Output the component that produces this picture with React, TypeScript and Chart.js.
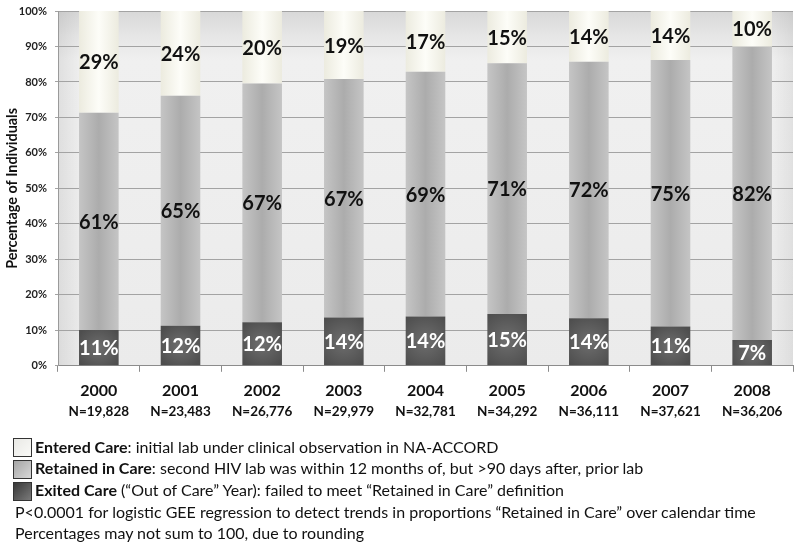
import React, { useEffect, useRef } from 'react';
import { Chart, registerables } from 'chart.js';

Chart.register(...registerables);

const years = ['2000', '2001', '2002', '2003', '2004', '2005', '2006', '2007', '2008'];
const sampleSizes = ['N=19,828', 'N=23,483', 'N=26,776', 'N=29,979', 'N=32,781', 'N=34,292', 'N=36,111', 'N=37,621', 'N=36,206'];

// bar heights (percent of individuals)
const exitedCare = [10.1, 11.3, 12.3, 13.6, 13.9, 14.6, 13.4, 11.1, 7.3];
const retainedCare = [61.2, 64.8, 67.3, 67.2, 69.0, 70.7, 72.3, 75.1, 82.6];
const enteredCare = [28.7, 23.9, 20.4, 19.2, 17.1, 14.7, 14.3, 13.8, 10.1];

// printed labels on the bars
const exitedLabels = ['11%', '12%', '12%', '14%', '14%', '15%', '14%', '11%', '7%'];
const retainedLabels = ['61%', '65%', '67%', '67%', '69%', '71%', '72%', '75%', '82%'];
const enteredLabels = ['29%', '24%', '20%', '19%', '17%', '15%', '14%', '14%', '10%'];

const FONT = 'Lato, "Open Sans", sans-serif';
const BAR_PCT = 0.485;

export default function App() {
  const ref = useRef<HTMLCanvasElement>(null);

  useEffect(() => {
    const canvas = ref.current!;

    const bounds = (chart: any, index: number, dsIndex: number) => {
      const xs = chart.scales.x;
      const ys = chart.scales.y;
      const cx = xs.getPixelForValue(index);
      const half = ((xs.width / years.length) * BAR_PCT) / 2;
      let base = 0;
      for (let d = 0; d < dsIndex; d++) base += chart.data.datasets[d].data[index];
      const top = base + chart.data.datasets[dsIndex].data[index];
      return { x0: cx - half, x1: cx + half, cx, yTop: ys.getPixelForValue(top), yBase: ys.getPixelForValue(base) };
    };

    const linearShade = (edge: string, center: string) => (c: any) => {
      const chart = c.chart;
      if (!chart.chartArea || c.type !== 'data' || !chart.scales.x) return center;
      const b = bounds(chart, c.dataIndex, c.datasetIndex);
      const g = chart.ctx.createLinearGradient(b.x0, 0, b.x1, 0);
      g.addColorStop(0, edge);
      g.addColorStop(0.5, center);
      g.addColorStop(1, edge);
      return g;
    };

    const radialShade = (edge: string, center: string) => (c: any) => {
      const chart = c.chart;
      if (!chart.chartArea || c.type !== 'data' || !chart.scales.x) return center;
      const b = bounds(chart, c.dataIndex, c.datasetIndex);
      const cy = (b.yTop + b.yBase) / 2;
      const r = Math.max(b.x1 - b.x0, b.yBase - b.yTop) * 0.6;
      const g = chart.ctx.createRadialGradient(b.cx, cy, 0, b.cx, cy, r);
      g.addColorStop(0, center);
      g.addColorStop(1, edge);
      return g;
    };

    const bgPlugin = {
      id: 'plotBg',
      beforeDraw(chart: any) {
        const { ctx, chartArea: a } = chart;
        if (!a) return;
        ctx.save();
        const g = ctx.createLinearGradient(0, a.top, 0, a.bottom);
        g.addColorStop(0, '#d8d8d8');
        g.addColorStop(0.07, '#e6e6e6');
        g.addColorStop(0.14, '#f0f0f0');
        g.addColorStop(1, '#ebebeb');
        ctx.fillStyle = g;
        ctx.fillRect(a.left, a.top, a.right - a.left, a.bottom - a.top);
        const gl = ctx.createLinearGradient(a.left, 0, a.left + 24, 0);
        gl.addColorStop(0, 'rgba(0,0,0,0.07)');
        gl.addColorStop(1, 'rgba(0,0,0,0)');
        ctx.fillStyle = gl;
        ctx.fillRect(a.left, a.top, 24, a.bottom - a.top);
        const gr = ctx.createLinearGradient(a.right, 0, a.right - 22, 0);
        gr.addColorStop(0, 'rgba(0,0,0,0.06)');
        gr.addColorStop(1, 'rgba(0,0,0,0)');
        ctx.fillStyle = gr;
        ctx.fillRect(a.right - 22, a.top, 22, a.bottom - a.top);
        ctx.restore();
      },
    };

    const labelPlugin = {
      id: 'barLabels',
      afterDatasetsDraw(chart: any) {
        const { ctx } = chart;
        ctx.save();
        ctx.textAlign = 'center';
        ctx.textBaseline = 'middle';
        ctx.font = `bold 20px ${FONT}`;
        chart.data.datasets.forEach((ds: any, di: number) => {
          const meta = chart.getDatasetMeta(di);
          meta.data.forEach((el: any, i: number) => {
            const p = el.getProps(['x', 'y', 'base'], true);
            ctx.fillStyle = ds.labelColor;
            ctx.fillText(ds.valueLabels[i], p.x, (p.y + p.base) / 2 + 1);
          });
        });
        ctx.restore();
      },
    };

    const chart = new Chart(canvas, {
      type: 'bar',
      data: {
        labels: years,
        datasets: [
          {
            label: 'Exited Care',
            data: exitedCare,
            backgroundColor: radialShade('#4e4e4e', '#6e6e6e'),
            valueLabels: exitedLabels,
            labelColor: '#ffffff',
          } as any,
          {
            label: 'Retained in Care',
            data: retainedCare,
            backgroundColor: linearShade('#c5c5c5', '#acacac'),
            valueLabels: retainedLabels,
            labelColor: '#111111',
          } as any,
          {
            label: 'Entered Care',
            data: enteredCare,
            backgroundColor: linearShade('#ecebdf', '#fdfdf8'),
            valueLabels: enteredLabels,
            labelColor: '#111111',
          } as any,
        ],
      },
      options: {
        responsive: false,
        animation: false,
        layout: { padding: { top: 11, right: 7, bottom: 121, left: 0 } },
        datasets: { bar: { categoryPercentage: 1, barPercentage: BAR_PCT, borderWidth: 0 } },
        plugins: { legend: { display: false }, tooltip: { enabled: false } },
        scales: {
          x: {
            stacked: true,
            offset: true,
            grid: { display: true, drawOnChartArea: false, drawTicks: true, tickLength: 6, offset: true, color: '#8c8c8c' },
            border: { display: true, color: '#8c8c8c' },
            ticks: { font: { family: FONT, size: 16, weight: 'bold' }, color: '#111', padding: 9 },
            afterFit: (s: any) => { s.height = 31; },
          },
          x2: {
            type: 'category',
            labels: sampleSizes,
            position: 'bottom',
            offset: true,
            grid: { display: false, drawTicks: false },
            border: { display: false },
            ticks: { font: { family: FONT, size: 13.5, weight: 'bold' }, color: '#111', padding: 7 },
          },
          y: {
            stacked: true,
            min: 0,
            max: 100,
            ticks: {
              stepSize: 10,
              callback: (v: any) => v + '%',
              font: { family: FONT, size: 11, weight: 'bold' },
              color: '#222',
              padding: 8,
            },
            grid: { color: '#a3a3a3', tickLength: 3 },
            border: { color: '#9a9a9a' },
            title: {
              display: true,
              text: 'Percentage of Individuals',
              font: { family: FONT, size: 14.4, weight: 'bold' },
              color: '#111',
              padding: { top: 4, bottom: 0 },
            },
            afterFit: (s: any) => {
              s.width = 58;
              s.paddingTop = 0;
              s.paddingBottom = 0;
            },
          },
        } as any,
      },
      plugins: [bgPlugin, labelPlugin],
    });

    return () => chart.destroy();
  }, []);

  const textStyle: React.CSSProperties = {
    position: 'absolute',
    fontFamily: FONT,
    fontSize: 16,
    lineHeight: '20px',
    color: '#111',
    whiteSpace: 'nowrap',
  };
  const box = (top: number, bg: string): React.CSSProperties => ({
    position: 'absolute',
    left: 13,
    top,
    width: 17,
    height: 17,
    border: '1px solid #333',
    background: bg,
  });

  return (
    <div style={{ position: 'fixed', left: 0, top: 0, width: 800, height: 548, background: '#fff', overflow: 'hidden' }}>
      <canvas ref={ref} width={800} height={548} style={{ display: 'block' }} />
      <div style={box(438, 'linear-gradient(135deg, #e9e9e5, #fafaf7)')} />
      <div style={box(460, 'linear-gradient(135deg, #a5a5a5, #d8d8d8)')} />
      <div style={box(482, 'linear-gradient(135deg, #383838, #7a7a7a)')} />
      <div style={{ ...textStyle, left: 35, top: 437 }}>
        <b>Entered Care</b>: initial lab under clinical observation in NA-ACCORD
      </div>
      <div style={{ ...textStyle, left: 35, top: 458 }}>
        <b>Retained in Care</b>: second HIV lab was within 12 months of, but &gt;90 days after, prior lab
      </div>
      <div style={{ ...textStyle, left: 35, top: 480 }}>
        <b>Exited Care</b> (“Out of Care” Year): failed to meet “Retained in Care” definition
      </div>
      <div style={{ ...textStyle, left: 15, top: 502 }}>
        P&lt;0.0001 for logistic GEE regression to detect trends in proportions “Retained in Care” over calendar time
      </div>
      <div style={{ ...textStyle, left: 15, top: 523 }}>
        Percentages may not sum to 100, due to rounding
      </div>
    </div>
  );
}
